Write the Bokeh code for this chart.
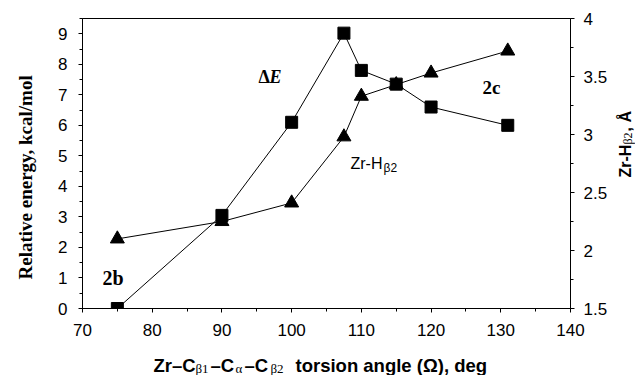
import math

from bokeh.core.properties import value
from bokeh.embed import file_html
from bokeh.layouts import column, row
from bokeh.models import (CustomJSTickFormatter, FixedTicker, Label, LinearAxis,
                          Range1d)
from bokeh.plotting import figure
from bokeh.resources import INLINE

# Torsion angle scan: relative energy (left axis) and Zr-H(beta2) distance (right axis)
angle_energy = [75, 90, 100, 107.5, 110, 115, 120, 131]
rel_energy = [0.0, 3.05, 6.1, 9.02, 7.8, 7.35, 6.6, 6.0]

angle_dist = [75, 90, 100, 107.5, 110, 115, 120, 131]
zr_h_dist = [2.10, 2.25, 2.41, 2.98, 3.33, 3.43, 3.53, 3.72]

x_ticks = [70, 80, 90, 100, 110, 120, 130, 140]
x_minor = [75, 85, 95, 105, 115, 125, 135]
energy_ticks = [0, 1, 2, 3, 4, 5, 6, 7, 8, 9]
energy_minor = [0.5, 1.5, 2.5, 3.5, 4.5, 5.5, 6.5, 7.5, 8.5, 9.5]
dist_ticks = [1.5, 2, 2.5, 3, 3.5, 4]
dist_minor = [1.75, 2.25, 2.75, 3.25, 3.75]

X_MIN, X_MAX = 70, 140
E_MIN, E_MAX = 0, 9.5
D_MIN, D_MAX = 1.5, 4

SANS = "Liberation Sans"
SERIF = "Liberation Serif"

# Page geometry: a title strip on the left, right and bottom around the chart
W, H = 635, 375
LEFT_STRIP, RIGHT_STRIP, BOTTOM_STRIP = 40, 25, 25
MAIN_W = W - LEFT_STRIP - RIGHT_STRIP
MAIN_H = H - BOTTOM_STRIP
FRAME_LEFT, FRAME_RIGHT, FRAME_TOP, FRAME_BOTTOM = 82, 572, 18, 308
ROW_GAP = 7  # extra space the page leaves below the chart row

p = figure(width=MAIN_W, height=MAIN_H, x_range=Range1d(X_MIN, X_MAX),
           y_range=Range1d(E_MIN, E_MAX),
           min_border_left=FRAME_LEFT - LEFT_STRIP,
           min_border_right=W - RIGHT_STRIP - FRAME_RIGHT,
           min_border_top=FRAME_TOP,
           min_border_bottom=MAIN_H - FRAME_BOTTOM,
           output_backend="svg", toolbar_location=None)
p.extra_y_ranges = {"dist": Range1d(D_MIN, D_MAX)}

p.background_fill_color = "white"
p.border_fill_color = "white"
p.outline_line_color = "black"
p.outline_line_width = 1
p.xgrid.visible = False
p.ygrid.visible = False


def style_axis(ax, standoff):
    ax.axis_line_color = "black"
    ax.major_tick_line_color = "black"
    ax.minor_tick_line_color = "black"
    ax.major_tick_out = 4
    ax.major_tick_in = 0
    ax.minor_tick_out = 3
    ax.minor_tick_in = 0
    ax.major_label_text_font = SANS
    ax.major_label_text_font_size = "17px"
    ax.major_label_text_color = "black"
    ax.major_label_standoff = standoff
    ax.axis_label = None


xa = p.xaxis[0]
xa.ticker = FixedTicker(ticks=x_ticks, minor_ticks=x_minor)
style_axis(xa, 11)

ya = p.yaxis[0]
ya.ticker = FixedTicker(ticks=energy_ticks, minor_ticks=energy_minor)
style_axis(ya, 11)

ra = LinearAxis(y_range_name="dist",
                ticker=FixedTicker(ticks=dist_ticks, minor_ticks=dist_minor),
                formatter=CustomJSTickFormatter(code="return tick.toString();"))
style_axis(ra, 9)
p.add_layout(ra, "right")

# Energy curve (squares)
p.line(angle_energy, rel_energy, line_color="black", line_width=1)
p.scatter(angle_energy, rel_energy, marker="square", size=12,
          fill_color="black", line_color="black")

# Zr-H distance curve (triangles)
p.line(angle_dist, zr_h_dist, line_color="black", line_width=1, y_range_name="dist")
p.scatter(angle_dist, zr_h_dist, marker="triangle", size=14,
          fill_color="black", line_color="black", y_range_name="dist")


def note(px, py, s, font=SANS, size="17px", style="normal"):
    """Text run inside the chart frame, at a page pixel position."""
    p.add_layout(Label(x=px - FRAME_LEFT, y=FRAME_BOTTOM - py,
                       x_units="screen", y_units="screen",
                       text=s, text_font=font,
                       text_font_size=size, text_font_style=style,
                       text_color="black", text_align="left",
                       text_baseline="alphabetic"))


note(258, 76, "Δ", font=SERIF, size="18px", style="bold")
note(269, 76, "E", font=SERIF, size="18px", style="bold italic")
note(482, 87, "2c", font=SERIF, size="19px", style="bold")
note(102, 277, "2b", font=SERIF, size="20px", style="bold")
note(350, 163, "Zr-H", font=SANS, size="16px")
note(383, 167, "β2", font=SANS, size="12px")


def strip(w, h, x0, x1, y0, y1):
    """Blank text panel; its frame spans page pixels x0..x1, y0..y1 (y down)."""
    s = figure(width=w, height=h, x_range=Range1d(x0, x1), y_range=Range1d(y1, y0),
               x_axis_type=None, y_axis_type=None, min_border=0,
               output_backend="svg", toolbar_location=None)
    s.outline_line_color = None
    s.background_fill_color = "white"
    s.border_fill_color = "white"
    return s


def run(fig, x, y, s, font=SANS, size="18px", style="bold", angle=0.0):
    fig.text(x=[x], y=[y], text=[s], text_font=value(font),
             text_font_size=value(size), text_font_style=style,
             text_color="black", angle=angle, text_align="left",
             text_baseline="alphabetic")


# Side strips share the chart's top/bottom borders, so their frames span 18..308
left = strip(LEFT_STRIP, MAIN_H, 0, LEFT_STRIP, FRAME_TOP, FRAME_BOTTOM)
run(left, 25, 279, "Relative energy, kcal/mol", font=SERIF, size="19px",
    angle=math.pi / 2)

right = strip(RIGHT_STRIP, MAIN_H, W - RIGHT_STRIP, W, FRAME_TOP, FRAME_BOTTOM)
run(right, 625, 177, "Zr-H", size="16px", angle=math.pi / 2)
run(right, 627.5, 144, "β2", font=SERIF, size="12px", style="normal",
    angle=math.pi / 2)
run(right, 625, 131, ", Å", size="16px", angle=math.pi / 2)

# Bottom title with subscripts
top_b = MAIN_H + ROW_GAP
bottom = strip(W, BOTTOM_STRIP, 0, W, top_b, top_b + BOTTOM_STRIP)
BASE = 371.5
SUB = 374.5
run(bottom, 153, BASE, "Zr–C", size="18.5px")
run(bottom, 195, SUB, "β1", font=SERIF, size="13px", style="normal")
run(bottom, 210, BASE, "–C", size="18.5px")
run(bottom, 235, SUB, "α", font=SERIF, size="13px", style="normal")
run(bottom, 244, BASE, "–C", size="18.5px")
run(bottom, 270, SUB, "β2", font=SERIF, size="13px", style="normal")
run(bottom, 295, BASE, "torsion angle (Ω), deg", size="18.5px")

page = column(row(left, p, right, spacing=0), bottom, spacing=0)

open("out.html", "w").write(file_html(page, INLINE))
